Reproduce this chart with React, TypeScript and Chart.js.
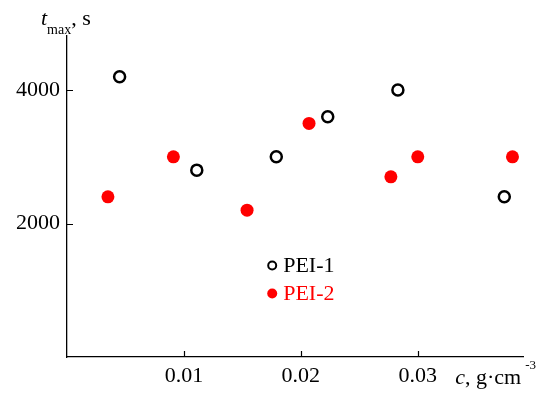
import React, { useEffect, useRef } from "react";
import { Chart, registerables } from "chart.js";

Chart.register(...registerables);

const pei1X = [0.0045, 0.0111, 0.0179, 0.0223, 0.0283, 0.0374];
const pei1Y = [4200, 2800, 3000, 3600, 4000, 2400];
const pei2X = [0.0035, 0.0091, 0.0154, 0.0207, 0.0277, 0.0300, 0.0381];
const pei2Y = [2400, 3000, 2200, 3500, 2700, 3000, 3000];
const seriesNames = ["PEI-1", "PEI-2"];
const xTicks = [0.01, 0.02, 0.03];
const yTicks = [2000, 4000];

const FONT = '"Liberation Serif", "Times New Roman", serif';

const decorPlugin = {
  id: "decor",
  afterDraw(chart: any) {
    const ctx = chart.ctx;
    const xs = chart.scales.x;
    const ys = chart.scales.y;
    const area = chart.chartArea;
    ctx.save();
    // inward ticks
    ctx.strokeStyle = "#000";
    ctx.lineWidth = 1.2;
    ctx.beginPath();
    for (const v of xTicks) {
      const px = Math.round(xs.getPixelForValue(v)) + 0.5;
      ctx.moveTo(px, area.bottom);
      ctx.lineTo(px, area.bottom - 6);
    }
    for (const v of yTicks) {
      const py = Math.round(ys.getPixelForValue(v)) + 0.5;
      ctx.moveTo(area.left, py);
      ctx.lineTo(area.left + 6, py);
    }
    ctx.stroke();

    ctx.fillStyle = "#000";
    ctx.textBaseline = "alphabetic";
    ctx.textAlign = "left";
    // y title
    let x = area.left - 26;
    const yb = 25;
    ctx.font = `italic 22px ${FONT}`;
    ctx.fillText("t", x, yb);
    x += ctx.measureText("t").width;
    ctx.font = `14px ${FONT}`;
    ctx.fillText("max", x, yb + 9);
    x += ctx.measureText("max").width;
    ctx.font = `22px ${FONT}`;
    ctx.fillText(", s", x, yb);

    // x title
    let cx = xs.getPixelForValue(0.03) + 37.5;
    const xb = 384;
    ctx.font = `italic 22px ${FONT}`;
    ctx.fillText("c", cx, xb);
    cx += ctx.measureText("c").width;
    ctx.font = `22px ${FONT}`;
    ctx.fillText(", g\u00B7cm", cx, xb);
    cx += ctx.measureText(", g\u00B7cm").width;
    ctx.font = `13px ${FONT}`;
    ctx.fillText("-3", cx + 4, xb - 15);

    // legend
    const lx = area.left + 0.45 * (area.right - area.left);
    const ly1 = area.top + 0.715 * (area.bottom - area.top);
    const ly2 = ly1 + 28;
    ctx.lineWidth = 2;
    ctx.strokeStyle = "#000";
    ctx.beginPath();
    ctx.arc(lx, ly1, 4, 0, Math.PI * 2);
    ctx.stroke();
    ctx.fillStyle = "#ff0000";
    ctx.beginPath();
    ctx.arc(lx, ly2, 5, 0, Math.PI * 2);
    ctx.fill();
    ctx.font = `22px ${FONT}`;
    ctx.textBaseline = "middle";
    ctx.fillStyle = "#000";
    ctx.fillText(seriesNames[0], lx + 11, ly1 + 1);
    ctx.fillStyle = "#ff0000";
    ctx.fillText(seriesNames[1], lx + 11, ly2 + 1);
    ctx.restore();
  },
};

export default function App() {
  const ref = useRef<HTMLCanvasElement | null>(null);
  useEffect(() => {
    document.body.style.margin = "0";
    const canvas = ref.current;
    if (!canvas) return;
    const chart = new Chart(canvas, {
      type: "scatter",
      data: {
        datasets: [
          {
            label: seriesNames[0],
            data: pei1X.map((x, i) => ({ x, y: pei1Y[i] })),
            pointRadius: 5.5,
            pointBorderWidth: 2.5,
            pointBorderColor: "#000",
            pointBackgroundColor: "rgba(255,255,255,0)",
          },
          {
            label: seriesNames[1],
            data: pei2X.map((x, i) => ({ x, y: pei2Y[i] })),
            pointRadius: 6.5,
            pointBorderWidth: 0,
            pointBorderColor: "#ff0000",
            pointBackgroundColor: "#ff0000",
          },
        ],
      },
      options: {
        animation: false,
        responsive: false,
        events: [],
        layout: { padding: { top: 36, right: 27, left: 0, bottom: 0 } },
        plugins: { legend: { display: false }, tooltip: { enabled: false } },
        scales: {
          x: {
            type: "linear",
            min: 0,
            max: 0.039,
            afterFit: (s: any) => { s.height = 40; },
            afterBuildTicks: (s: any) => { s.ticks = xTicks.map((v) => ({ value: v })); },
            grid: { display: false, drawTicks: false },
            border: { display: true, color: "#000", width: 1.3 },
            ticks: {
              color: "#000",
              font: { family: FONT, size: 22 },
              padding: 6,
              maxRotation: 0,
              callback: (v: any) => Number(v).toFixed(2),
            },
          },
          y: {
            type: "linear",
            min: 0,
            max: 4810,
            afterFit: (s: any) => { s.width = 67; },
            afterBuildTicks: (s: any) => { s.ticks = yTicks.map((v) => ({ value: v })); },
            grid: { display: false, drawTicks: false },
            border: { display: true, color: "#000", width: 1.3 },
            ticks: {
              color: "#000",
              font: { family: FONT, size: 22 },
              padding: 7,
              callback: (v: any) => String(v),
            },
          },
        },
      },
      plugins: [decorPlugin],
    });
    return () => chart.destroy();
  }, []);
  return <canvas ref={ref} width={550} height={397} style={{ display: "block" }} />;
}
